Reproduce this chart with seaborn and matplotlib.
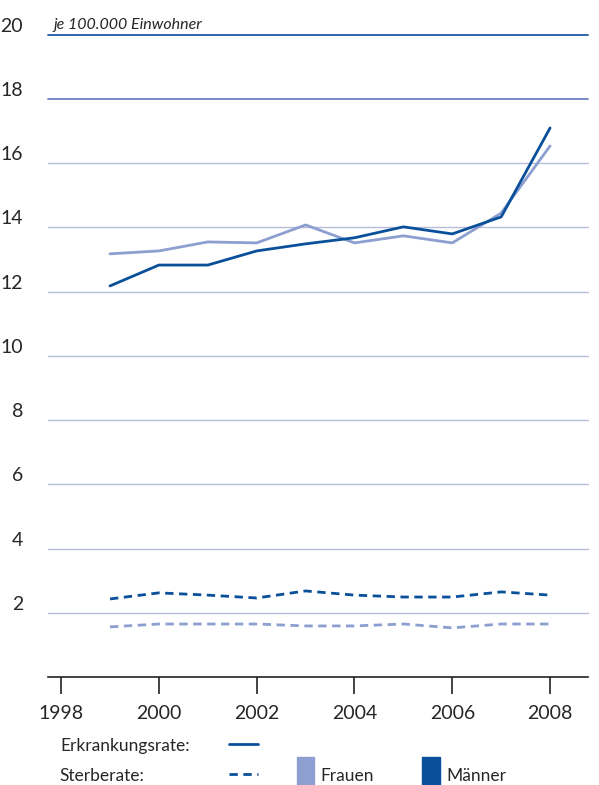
import matplotlib
matplotlib.use("Agg")
import matplotlib.pyplot as plt
import seaborn as sns
import pandas as pd
from matplotlib.lines import Line2D
from matplotlib.patches import Rectangle

years = list(range(1999, 2009))
erk_maenner = [12.18, 12.83, 12.83, 13.27, 13.49, 13.68, 14.02, 13.80, 14.33, 17.1]
erk_frauen = [13.18, 13.27, 13.55, 13.52, 14.08, 13.52, 13.74, 13.52, 14.45, 16.54]
st_maenner = [2.43, 2.62, 2.55, 2.46, 2.68, 2.55, 2.49, 2.49, 2.65, 2.55]
st_frauen = [1.56, 1.65, 1.65, 1.65, 1.59, 1.59, 1.65, 1.53, 1.65, 1.65]

dark = "#0a4f9a"
light = "#8c9fd0"
sns.set_style("white")
plt.rcParams['font.family'] = ['Lato', 'DejaVu Sans']

fig = plt.figure(figsize=(5.99, 7.85), dpi=100)
ax = fig.add_axes([0.080, 0.1376, 0.902, 0.818])
for v in range(2, 21, 2):
    c = "#1f5aa5" if v == 20 else ("#6c80c2" if v == 18 else "#b5bddb")
    ax.axhline(v, color=c, lw=1.3 if v >= 18 else 1.0, zorder=0, clip_on=False)

df = pd.DataFrame({"year": years, "em": erk_maenner, "ef": erk_frauen, "sm": st_maenner, "sf": st_frauen})
sns.lineplot(data=df, x="year", y="ef", color=light, lw=2, ax=ax)
sns.lineplot(data=df, x="year", y="em", color=dark, lw=2, ax=ax)
sns.lineplot(data=df, x="year", y="sf", color=light, lw=2, ax=ax, linestyle=(0, (3, 2)))
sns.lineplot(data=df, x="year", y="sm", color=dark, lw=2, ax=ax, linestyle=(0, (3, 2)))

ax.set_xlim(1997.73, 2008.78)
ax.set_ylim(0, 20)
ax.set_xlabel(""); ax.set_ylabel("")
ax.set_xticks(range(1998, 2009, 2))
ax.set_yticks(range(2, 21, 2))
for s in ["left", "right", "top"]:
    ax.spines[s].set_visible(False)
ax.spines["bottom"].set_color("#222222")
ax.spines["bottom"].set_linewidth(1.2)
ax.tick_params(axis="x", direction="out", length=12, width=1.2, color="#222222", labelsize=14, pad=8, bottom=True)
ax.tick_params(axis="y", length=0, labelsize=14, pad=18)
for lbl in ax.get_yticklabels():
    lbl.set_verticalalignment("bottom")
ax.text(1997.85, 20.1, "je 100.000 Einwohner", fontsize=11.5, style="italic", va="bottom")

fig.text(0.1, 0.050, "Erkrankungsrate:", fontsize=12.5, va="center")
fig.text(0.1, 0.012, "Sterberate:", fontsize=12.5, va="center")
fig.add_artist(Line2D([0.382, 0.43], [0.052, 0.052], color=dark, lw=2))
fig.add_artist(Line2D([0.382, 0.43], [0.014, 0.014], color=dark, lw=2, linestyle=(0, (3, 2))))
fig.add_artist(Rectangle((0.495, 0.0), 0.03, 0.036, color=light))
fig.text(0.535, 0.012, "Frauen", fontsize=12.5, va="center")
fig.add_artist(Rectangle((0.705, 0.0), 0.03, 0.036, color=dark))
fig.text(0.745, 0.012, "Männer", fontsize=12.5, va="center")

fig.savefig("out.png", dpi=100)
